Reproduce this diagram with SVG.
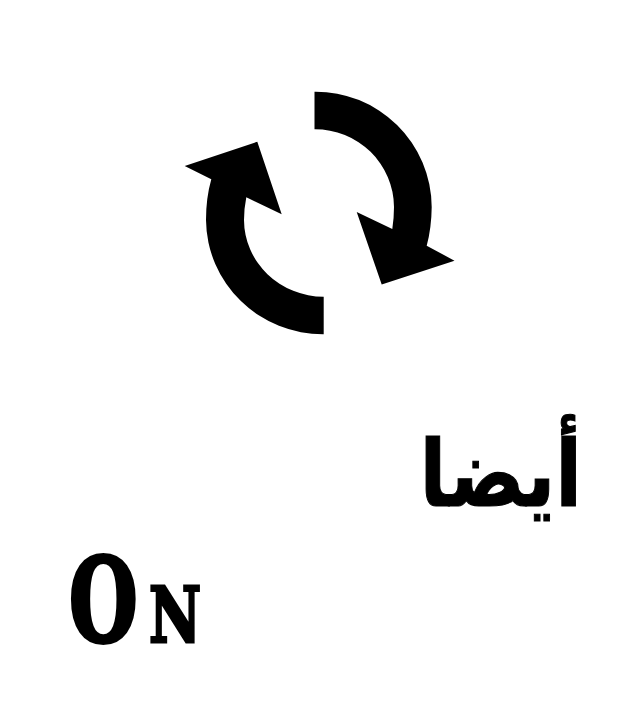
<svg xmlns="http://www.w3.org/2000/svg" width="639" height="718" viewBox="0 0 639 718">
<style>.t{fill:#000;stroke:#000;font-family:'DejaVu Serif',serif;font-weight:700}</style>
<rect width="639" height="718" fill="#fff"/>
<g id="arrow-right"><path d="M314.5 91.7A116 116 0 0 1 431.7 207Q431.5 228 426.7 245.7L454.5 260.7L381.7 284.5L356.7 212L392.3 229Q394 218 394 207A79 78 0 0 0 314.5 129.3Z"/></g>
<g id="arrow-left"><path d="M323.7 334.3A117 115 0 0 1 206 220Q206 198 211.3 179.3L184.7 166L257.3 141.7L281.7 214.3L246.3 197.3Q244 209 244 220A80 77 0 0 0 323.7 296.7Z"/></g>
<text id="arabic" transform="translate(582 506) scale(.93 1.1)" text-anchor="start" font-family="'DejaVu Sans',sans-serif" font-weight="700" font-size="84" direction="rtl" stroke="#000" stroke-width="1">أيضا</text>
<g id="on">
<text class="t" stroke-width="4" transform="translate(69 641) scale(.68 1)" font-size="116">O</text>
<text class="t" stroke-width="3" transform="translate(149 642) scale(.75 1)" font-size="76">N</text>
</g>
</svg>
